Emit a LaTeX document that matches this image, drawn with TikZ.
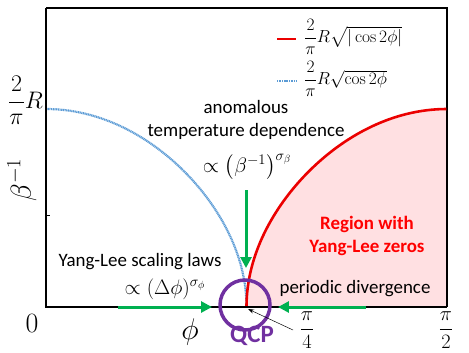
\RequirePackage{fix-cm}
\documentclass[tikz,border=0pt]{standalone}
\usepackage{amsmath}
\usepackage[no-math]{fontspec}
\setsansfont{Carlito}
\usetikzlibrary{arrows.meta}
\definecolor{qgreen}{RGB}{0,176,80}
\definecolor{qpurple}{RGB}{112,48,160}
\definecolor{qblue}{RGB}{91,155,213}
\definecolor{qred}{RGB}{235,0,0}
\definecolor{qpink}{RGB}{255,224,226}
\tikzset{
  txt/.style={font=\sffamily\fontsize{19}{23}\selectfont, inner sep=0pt, align=center},
  mth/.style={font=\fontsize{21}{25}\selectfont, inner sep=0pt},
  lgd/.style={font=\fontsize{17.5}{21}\selectfont, inner sep=0pt, anchor=west},
  ax/.style={font=\fontsize{28}{32}\selectfont, inner sep=0pt},
  frc/.style={font=\fontsize{20.5}{24}\selectfont, inner sep=0pt},
  regiontxt/.style={font=\sffamily\fontsize{19}{23}\selectfont\bfseries, text=red, inner sep=0pt, align=center},
  garrow/.style={draw=qgreen, line width=3pt, -{Triangle[length=11pt,width=11pt]}},
  redcurve/.style={draw=qred, line width=2.6pt},
  bluecurve/.style={draw=qblue, line width=2.2pt, dash pattern=on 1.1pt off 0.6pt},
}
\begin{document}
\begin{tikzpicture}[x=1bp,y=-1bp]
\useasboundingbox (0,0) rectangle (469,352);
% shaded region
\fill[qpink] plot[domain=0:1, samples=120, variable=\v]
  ({246.5+200.5*\v*\v}, {307-198*sqrt(abs(cos(90+90*\v*\v)))})
  -- (447,307) -- cycle;
% frame
\draw[line width=1.6pt] (46,8) -- (447,8) -- (447,307);
% curves
\draw[bluecurve] plot[domain=0:1, samples=120, variable=\v]
  ({46+200.5*(1-(1-\v)*(1-\v))}, {307-198*sqrt(abs(cos(90*(1-(1-\v)*(1-\v)))))});
\draw[redcurve] plot[domain=0:1, samples=120, variable=\v]
  ({246.5+200.5*\v*\v}, {307-198*sqrt(abs(cos(90+90*\v*\v)))});
% axes
\draw[line width=2.2pt] (46,8) -- (46,307) -- (447,307);
\draw[line width=0.6pt] (46,215) -- (50,215);
% axis labels
\node[ax] (zero) at (32,323) {$0$};
\node[font=\fontsize{30}{34}\selectfont, inner sep=0pt] (phi) at (190,332) {$\phi$};
\node[frc] (pi4) at (307,330) {$\dfrac{\pi}{4}$};
\node[frc] (pi2) at (446,330) {$\dfrac{\pi}{2}$};
\node[font=\fontsize{24}{28}\selectfont, inner sep=0pt, anchor=base east] (twopiR) at (43,108) {$\dfrac{2}{\pi}R$};
\node[font=\fontsize{29}{33}\selectfont, inner sep=0pt, rotate=90] (beta) at (22,180) {$\beta^{-1}$};
% legend
\coordinate (lr1) at (277,39); \coordinate (lr2) at (296,39);
\coordinate (lb1) at (277,81); \coordinate (lb2) at (296,81);
\draw[redcurve] (lr1) -- (lr2);
\draw[bluecurve] (lb1) -- (lb2);
\node[lgd] (lgr) at (304,37) {$\dfrac{2}{\pi}R\sqrt{|\cos 2\phi|}$};
\node[lgd] (lgb) at (304,79) {$\dfrac{2}{\pi}R\sqrt{\cos 2\phi}$};
% texts
\node[txt] (anom) at (246,107) {anomalous};
\node[txt] (temp) at (246,131) {temperature dependence};
\node[mth] (pb) at (247,167) {$\propto\left(\beta^{-1}\right)^{\sigma_\beta}$};
\node[txt] (yl) at (140,262) {Yang-Lee scaling laws};
\node[mth] (pd) at (165,289) {$\propto(\Delta\phi)^{\sigma_\phi}$};
\node[txt] (per) at (355,289) {periodic divergence};
\node[regiontxt] (reg) at (367,236) {Region with\\Yang-Lee zeros};
% QCP
\coordinate (qcp) at (248,309);
\draw[qpurple, line width=3.5pt] (245,305) circle[radius=25];
\node[font=\sffamily\fontsize{25}{28}\selectfont\bfseries, text=qpurple, inner sep=0pt] (qcpl) at (252,336) {QCP};
% green arrows
\coordinate (vA) at (246,190); \coordinate (vB) at (246,268);
\coordinate (hA) at (118,307); \coordinate (hB) at (212,307);
\coordinate (rA) at (366,307); \coordinate (rB) at (278,307);
\draw[garrow] (vA) -- (vB);
\draw[garrow] (hA) -- (hB);
\draw[garrow] (rA) -- (rB);
% pointer
\coordinate (tA) at (293,330);
\draw[line width=0.5pt, -{Stealth[length=6pt,width=4pt]}] (tA) -- (qcp);
\end{tikzpicture}
\end{document}
